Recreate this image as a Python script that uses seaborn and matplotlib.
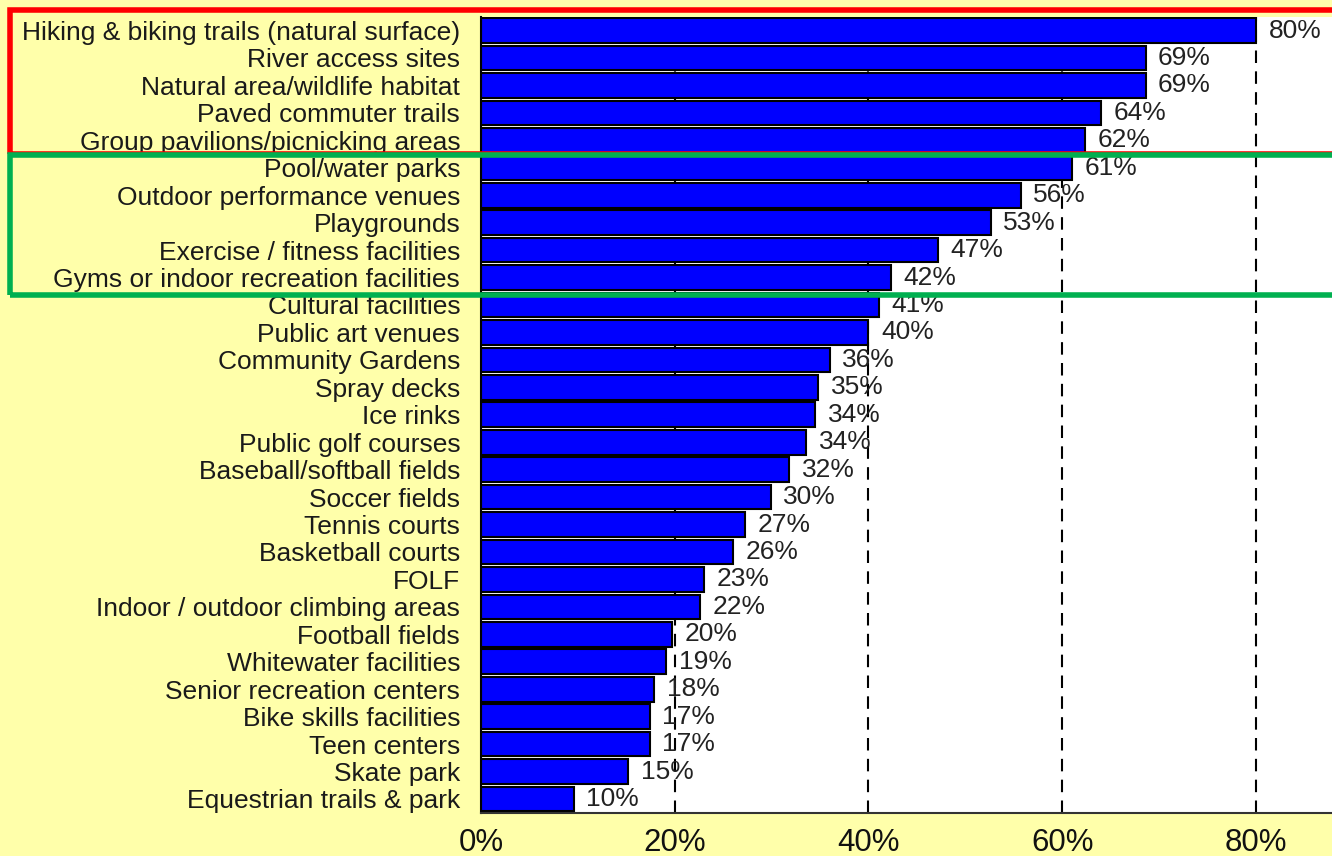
import matplotlib
matplotlib.use("Agg")
import matplotlib.pyplot as plt
import seaborn as sns
import pandas as pd
from matplotlib.patches import Rectangle

categories = [
    "Hiking & biking trails (natural surface)",
    "River access sites",
    "Natural area/wildlife habitat",
    "Paved commuter trails",
    "Group pavilions/picnicking areas",
    "Pool/water parks",
    "Outdoor performance venues",
    "Playgrounds",
    "Exercise / fitness facilities",
    "Gyms or indoor recreation facilities",
    "Cultural facilities",
    "Public art venues",
    "Community Gardens",
    "Spray decks",
    "Ice rinks",
    "Public golf courses",
    "Baseball/softball fields",
    "Soccer fields",
    "Tennis courts",
    "Basketball courts",
    "FOLF",
    "Indoor / outdoor climbing areas",
    "Football fields",
    "Whitewater facilities",
    "Senior recreation centers",
    "Bike skills facilities",
    "Teen centers",
    "Skate park",
    "Equestrian trails & park",
]
values = [0.80, 0.686, 0.686, 0.64, 0.624, 0.61, 0.557, 0.526, 0.472, 0.423,
          0.411, 0.40, 0.36, 0.348, 0.345, 0.336, 0.318, 0.299, 0.273, 0.26,
          0.23, 0.226, 0.197, 0.191, 0.179, 0.174, 0.174, 0.152, 0.096]
labels = ["80%", "69%", "69%", "64%", "62%", "61%", "56%", "53%", "47%", "42%",
          "41%", "40%", "36%", "35%", "34%", "34%", "32%", "30%", "27%", "26%",
          "23%", "22%", "20%", "19%", "18%", "17%", "17%", "15%", "10%"]
xticks = [0, 0.2, 0.4, 0.6, 0.8]
xticklabels = ["0%", "20%", "40%", "60%", "80%"]

sns.set_theme(style="white")
plt.rcParams["font.family"] = ["Liberation Sans", "DejaVu Sans"]

bg = "#FFFFAA"
W, H = 1332, 856
fig = plt.figure(figsize=(W / 100, H / 100), dpi=100, facecolor=bg)
ax = fig.add_axes([481 / W, 1 - 812.7 / H, 1 - 481 / W, (812.7 - 16.8) / H])
ax.set_facecolor("white")

df = pd.DataFrame({"cat": categories, "val": values})
sns.barplot(data=df, x="val", y="cat", orient="h", color="#0000FF",
            saturation=1, edgecolor="black", linewidth=1.5, width=0.9, ax=ax)

ax.set_xlim(0, 0.8785)
ax.set_ylim(len(categories) - 0.5, -0.5)
ax.set_xticks(xticks)
ax.set_xticklabels(xticklabels, fontsize=22.5, color="#111111")
ax.tick_params(axis="x", length=0, pad=11)
ax.tick_params(axis="y", length=0, pad=15, labelsize=19, labelcolor="#1a1a1a")
ax.set_xlabel("")
ax.set_ylabel("")

ax.set_axisbelow(True)
for t in xticks[1:]:
    ax.axvline(t, color="black", lw=1.5, linestyle=(0, (6, 4)), zorder=0.5)

for s in ["top", "right"]:
    ax.spines[s].set_visible(False)
ax.spines["left"].set_color("black")
ax.spines["left"].set_linewidth(1.5)
ax.spines["bottom"].set_color("#333333")
ax.spines["bottom"].set_linewidth(1.5)

ax.bar_label(ax.containers[0], labels=labels, padding=9, fontsize=19,
             color="#222222")

# highlight boxes (figure pixel coords)
def box(x0, y0, x1, y1, color):
    fig.patches.append(Rectangle((x0 / W, 1 - y1 / H), (x1 - x0) / W, (y1 - y0) / H,
                                 transform=fig.transFigure, fill=False,
                                 edgecolor=color, linewidth=4, zorder=10))

box(10.5, 10, 1340, 154, "#FF0000")
box(10.5, 154.5, 1340, 294.5, "#00B050")

fig.savefig("out.png", dpi=100, facecolor=bg)
